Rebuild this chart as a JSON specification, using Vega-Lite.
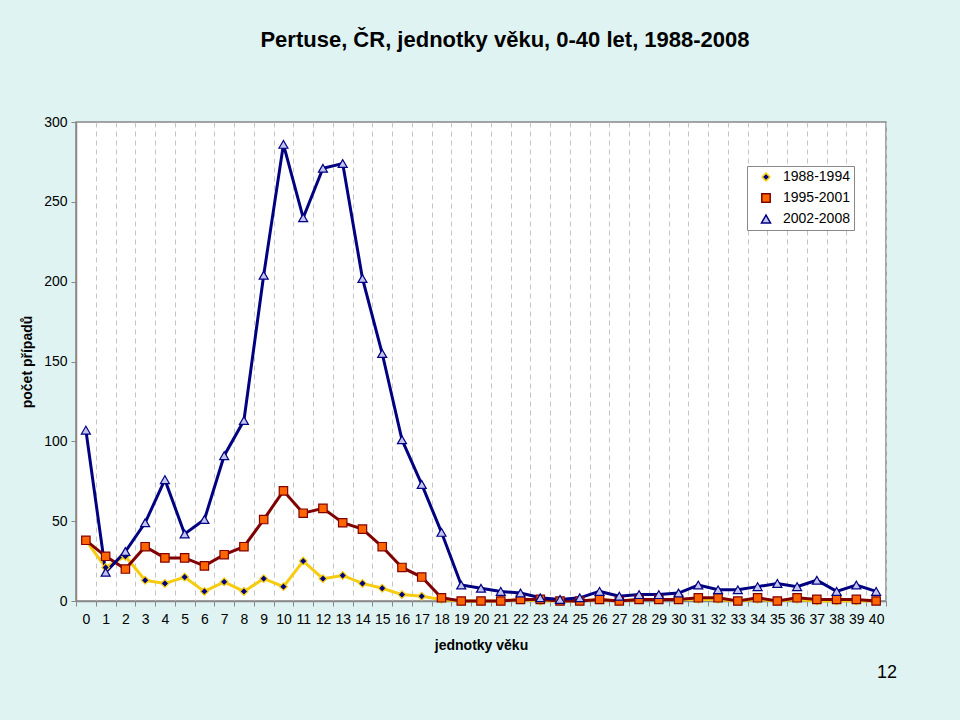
{
  "$schema": "https://vega.github.io/schema/vega-lite/v6.json",
  "width": 810,
  "height": 479,
  "autosize": {"type": "none"},
  "padding": {"left": 76, "top": 122, "right": 74, "bottom": 119},
  "background": "#dff4f2",
  "title": {
    "text": "Pertuse, ČR, jednotky věku, 0-40 let, 1988-2008",
    "font": "Liberation Sans",
    "fontSize": 22,
    "fontWeight": "bold",
    "color": "#000000",
    "anchor": "middle",
    "frame": "group",
    "baseline": "alphabetic",
    "offset": 46,
    "dx": 24
  },
  "datasets": {
    "pertuse": [
      {"vek":0,"obdobi":"1988-1994","pocet":38},{"vek":1,"obdobi":"1988-1994","pocet":21},{"vek":2,"obdobi":"1988-1994","pocet":28},{"vek":3,"obdobi":"1988-1994","pocet":13},{"vek":4,"obdobi":"1988-1994","pocet":11},{"vek":5,"obdobi":"1988-1994","pocet":15},{"vek":6,"obdobi":"1988-1994","pocet":6},{"vek":7,"obdobi":"1988-1994","pocet":12},{"vek":8,"obdobi":"1988-1994","pocet":6},{"vek":9,"obdobi":"1988-1994","pocet":14},{"vek":10,"obdobi":"1988-1994","pocet":9},{"vek":11,"obdobi":"1988-1994","pocet":25},{"vek":12,"obdobi":"1988-1994","pocet":14},{"vek":13,"obdobi":"1988-1994","pocet":16},{"vek":14,"obdobi":"1988-1994","pocet":11},{"vek":15,"obdobi":"1988-1994","pocet":8},{"vek":16,"obdobi":"1988-1994","pocet":4},{"vek":17,"obdobi":"1988-1994","pocet":3},{"vek":18,"obdobi":"1988-1994","pocet":1},{"vek":19,"obdobi":"1988-1994","pocet":0},{"vek":20,"obdobi":"1988-1994","pocet":0},{"vek":21,"obdobi":"1988-1994","pocet":0},{"vek":22,"obdobi":"1988-1994","pocet":1},{"vek":23,"obdobi":"1988-1994","pocet":0},{"vek":24,"obdobi":"1988-1994","pocet":0},{"vek":25,"obdobi":"1988-1994","pocet":0},{"vek":26,"obdobi":"1988-1994","pocet":1},{"vek":27,"obdobi":"1988-1994","pocet":0},{"vek":28,"obdobi":"1988-1994","pocet":1},{"vek":29,"obdobi":"1988-1994","pocet":1},{"vek":30,"obdobi":"1988-1994","pocet":1},{"vek":31,"obdobi":"1988-1994","pocet":1},{"vek":32,"obdobi":"1988-1994","pocet":1},{"vek":33,"obdobi":"1988-1994","pocet":0},{"vek":34,"obdobi":"1988-1994","pocet":1},{"vek":35,"obdobi":"1988-1994","pocet":0},{"vek":36,"obdobi":"1988-1994","pocet":1},{"vek":37,"obdobi":"1988-1994","pocet":0},{"vek":38,"obdobi":"1988-1994","pocet":0},{"vek":39,"obdobi":"1988-1994","pocet":0},{"vek":40,"obdobi":"1988-1994","pocet":0},
      {"vek":0,"obdobi":"1995-2001","pocet":38},{"vek":1,"obdobi":"1995-2001","pocet":28},{"vek":2,"obdobi":"1995-2001","pocet":20},{"vek":3,"obdobi":"1995-2001","pocet":34},{"vek":4,"obdobi":"1995-2001","pocet":27},{"vek":5,"obdobi":"1995-2001","pocet":27},{"vek":6,"obdobi":"1995-2001","pocet":22},{"vek":7,"obdobi":"1995-2001","pocet":29},{"vek":8,"obdobi":"1995-2001","pocet":34},{"vek":9,"obdobi":"1995-2001","pocet":51},{"vek":10,"obdobi":"1995-2001","pocet":69},{"vek":11,"obdobi":"1995-2001","pocet":55},{"vek":12,"obdobi":"1995-2001","pocet":58},{"vek":13,"obdobi":"1995-2001","pocet":49},{"vek":14,"obdobi":"1995-2001","pocet":45},{"vek":15,"obdobi":"1995-2001","pocet":34},{"vek":16,"obdobi":"1995-2001","pocet":21},{"vek":17,"obdobi":"1995-2001","pocet":15},{"vek":18,"obdobi":"1995-2001","pocet":2},{"vek":19,"obdobi":"1995-2001","pocet":0},{"vek":20,"obdobi":"1995-2001","pocet":0},{"vek":21,"obdobi":"1995-2001","pocet":0},{"vek":22,"obdobi":"1995-2001","pocet":1},{"vek":23,"obdobi":"1995-2001","pocet":1},{"vek":24,"obdobi":"1995-2001","pocet":0},{"vek":25,"obdobi":"1995-2001","pocet":0},{"vek":26,"obdobi":"1995-2001","pocet":1},{"vek":27,"obdobi":"1995-2001","pocet":0},{"vek":28,"obdobi":"1995-2001","pocet":1},{"vek":29,"obdobi":"1995-2001","pocet":1},{"vek":30,"obdobi":"1995-2001","pocet":1},{"vek":31,"obdobi":"1995-2001","pocet":2},{"vek":32,"obdobi":"1995-2001","pocet":2},{"vek":33,"obdobi":"1995-2001","pocet":0},{"vek":34,"obdobi":"1995-2001","pocet":2},{"vek":35,"obdobi":"1995-2001","pocet":0},{"vek":36,"obdobi":"1995-2001","pocet":2},{"vek":37,"obdobi":"1995-2001","pocet":1},{"vek":38,"obdobi":"1995-2001","pocet":1},{"vek":39,"obdobi":"1995-2001","pocet":1},{"vek":40,"obdobi":"1995-2001","pocet":0},
      {"vek":0,"obdobi":"2002-2008","pocet":107},{"vek":1,"obdobi":"2002-2008","pocet":18},{"vek":2,"obdobi":"2002-2008","pocet":31},{"vek":3,"obdobi":"2002-2008","pocet":49},{"vek":4,"obdobi":"2002-2008","pocet":76},{"vek":5,"obdobi":"2002-2008","pocet":42},{"vek":6,"obdobi":"2002-2008","pocet":51},{"vek":7,"obdobi":"2002-2008","pocet":91},{"vek":8,"obdobi":"2002-2008","pocet":113},{"vek":9,"obdobi":"2002-2008","pocet":204},{"vek":10,"obdobi":"2002-2008","pocet":286},{"vek":11,"obdobi":"2002-2008","pocet":240},{"vek":12,"obdobi":"2002-2008","pocet":271},{"vek":13,"obdobi":"2002-2008","pocet":274},{"vek":14,"obdobi":"2002-2008","pocet":202},{"vek":15,"obdobi":"2002-2008","pocet":155},{"vek":16,"obdobi":"2002-2008","pocet":101},{"vek":17,"obdobi":"2002-2008","pocet":73},{"vek":18,"obdobi":"2002-2008","pocet":43},{"vek":19,"obdobi":"2002-2008","pocet":10},{"vek":20,"obdobi":"2002-2008","pocet":8},{"vek":21,"obdobi":"2002-2008","pocet":6},{"vek":22,"obdobi":"2002-2008","pocet":5},{"vek":23,"obdobi":"2002-2008","pocet":2},{"vek":24,"obdobi":"2002-2008","pocet":1},{"vek":25,"obdobi":"2002-2008","pocet":2},{"vek":26,"obdobi":"2002-2008","pocet":6},{"vek":27,"obdobi":"2002-2008","pocet":3},{"vek":28,"obdobi":"2002-2008","pocet":4},{"vek":29,"obdobi":"2002-2008","pocet":4},{"vek":30,"obdobi":"2002-2008","pocet":5},{"vek":31,"obdobi":"2002-2008","pocet":10},{"vek":32,"obdobi":"2002-2008","pocet":7},{"vek":33,"obdobi":"2002-2008","pocet":7},{"vek":34,"obdobi":"2002-2008","pocet":9},{"vek":35,"obdobi":"2002-2008","pocet":11},{"vek":36,"obdobi":"2002-2008","pocet":9},{"vek":37,"obdobi":"2002-2008","pocet":13},{"vek":38,"obdobi":"2002-2008","pocet":6},{"vek":39,"obdobi":"2002-2008","pocet":10},{"vek":40,"obdobi":"2002-2008","pocet":6}
    ]
  },
  "data": {"name": "pertuse"},
  "encoding": {
    "x": {
      "field": "vek",
      "type": "ordinal",
      "sort": "ascending",
      "scale": {"type": "band", "paddingInner": 0, "paddingOuter": 0},
      "axis": {
        "title": "jednotky věku",
        "labelAngle": 0,
        "tickBand": "extent",
        "grid": true,
        "gridColor": "#c4c4c4",
        "gridDash": [5, 4],
        "gridWidth": 1,
        "domainColor": "#888888",
        "domainWidth": 1.5,
        "tickColor": "#888888",
        "tickSize": 5,
        "labelPadding": 6,
        "labelFontSize": 14,
        "labelColor": "#000000",
        "titlePadding": 12,
        "titleFontSize": 14,
        "titleFontWeight": "bold",
        "titleColor": "#000000"
      }
    },
    "y": {
      "field": "pocet",
      "type": "quantitative",
      "scale": {"domain": [0, 300], "nice": false, "zero": true},
      "axis": {
        "title": "počet případů",
        "values": [0, 50, 100, 150, 200, 250, 300],
        "grid": false,
        "domainColor": "#888888",
        "domainWidth": 1.5,
        "tickColor": "#888888",
        "tickSize": 5,
        "labelPadding": 4,
        "labelFontSize": 14,
        "labelColor": "#000000",
        "titlePadding": 9,
        "titleFontSize": 14,
        "titleFontWeight": "bold",
        "titleColor": "#000000"
      }
    }
  },
  "layer": [
    {
      "mark": {"type": "line", "strokeWidth": 3},
      "encoding": {
        "stroke": {
          "field": "obdobi",
          "type": "nominal",
          "scale": {"domain": ["1988-1994", "1995-2001", "2002-2008"], "range": ["#f5cc10", "#800000", "#000080"]},
          "legend": {"title": null}
        }
      }
    },
    {
      "mark": {"type": "point", "filled": true, "strokeWidth": 1.2, "opacity": 1},
      "encoding": {
        "stroke": {
          "field": "obdobi",
          "type": "nominal",
          "scale": {"domain": ["1988-1994", "1995-2001", "2002-2008"], "range": ["#f5cc10", "#800000", "#000080"]},
          "legend": {"title": null}
        },
        "fill": {
          "field": "obdobi",
          "type": "nominal",
          "scale": {"domain": ["1988-1994", "1995-2001", "2002-2008"], "range": ["#000080", "#ff6600", "#c4c4f0"]},
          "legend": {"title": null}
        },
        "shape": {
          "field": "obdobi",
          "type": "nominal",
          "scale": {"domain": ["1988-1994", "1995-2001", "2002-2008"], "range": ["diamond", "square", "triangle-up"]},
          "legend": {"title": null}
        },
        "size": {
          "field": "obdobi",
          "type": "nominal",
          "scale": {"domain": ["1988-1994", "1995-2001", "2002-2008"], "range": [60, 81, 120]},
          "legend": null
        }
      }
    },
    {
      "transform": [{"filter": "datum.vek === 40 && datum.obdobi === '2002-2008'"}],
      "mark": {"type": "text", "fontSize": 18, "font": "Liberation Sans", "color": "#000000", "dx": 11, "baseline": "middle", "clip": false},
      "encoding": {
        "y": {"datum": -45, "type": "quantitative"},
        "text": {"value": "12"}
      }
    }
  ],
  "config": {
    "font": "Liberation Sans",
    "view": {"fill": "#ffffff", "stroke": "#888888", "strokeWidth": 1.5},
    "legend": {
      "orient": "none",
      "legendX": 671,
      "legendY": 44,
      "fillColor": "#ffffff",
      "strokeColor": "#888888",
      "padding": 4,
      "symbolOffset": 8,
      "symbolSize": 100,
      "symbolStrokeWidth": 1.5,
      "rowPadding": 6,
      "labelOffset": 10,
      "labelFontSize": 14,
      "labelFont": "Liberation Sans",
      "labelColor": "#000000"
    }
  }
}
